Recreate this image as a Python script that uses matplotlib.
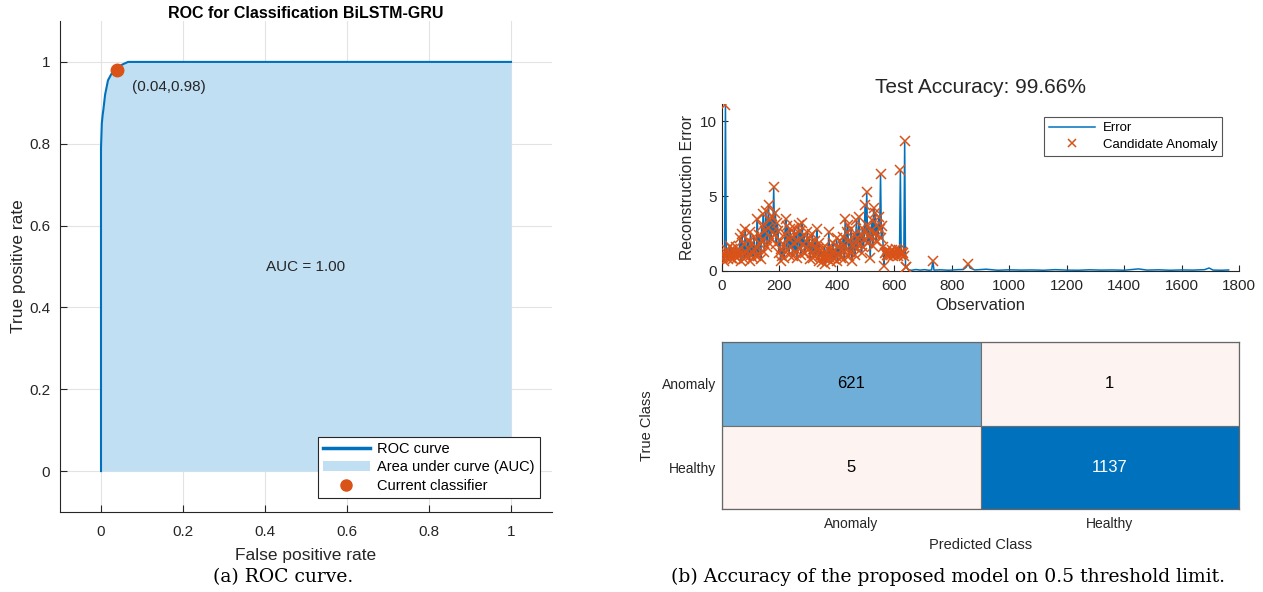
import numpy as np
import matplotlib
matplotlib.use("Agg")
import matplotlib.pyplot as plt
from matplotlib.lines import Line2D
from matplotlib.patches import Patch

plt.rcParams['font.family'] = ['Liberation Sans', 'DejaVu Sans']

# ---------------- data ----------------
roc_fpr = [0.0, 0.0, 0.001, 0.002, 0.004, 0.006, 0.01, 0.017, 0.025, 0.035, 0.045, 0.055, 0.066, 1.0]
roc_tpr = [0.0, 0.79, 0.82, 0.85, 0.87, 0.885, 0.92, 0.955, 0.97, 0.98, 0.99, 0.995, 1.0, 1.0]
op_point = (0.04, 0.98)
auc_text = "AUC = 1.00"

obs_step = 3
err_anom = [
    0.9, 1.1, 0.7, 1.3, 11.1, 1.0, 1.4, 0.8, 1.2, 1.7, 0.9, 1.1, 1.5, 0.8, 1.2, 1.0, 1.6, 0.9, 1.3, 1.1,
    1.4, 2.2, 0.7, 2.5, 1.2, 1.8, 0.8, 2.8, 1.3, 1.0, 2.0, 1.5, 0.7, 2.6, 1.1, 1.9, 0.9, 2.3, 1.4, 1.0,
    1.6, 3.5, 1.0, 2.4, 1.8, 0.8, 3.0, 2.1, 3.8, 1.3, 2.7, 4.0, 1.6, 2.9, 4.4, 1.9, 3.4, 2.2, 3.7, 2.6,
    5.6, 2.4, 3.9, 1.8, 3.2, 2.7, 1.2, 2.0, 0.7, 1.5, 1.0, 1.8, 0.9, 2.5, 3.5, 1.4, 3.0, 2.2, 1.1, 2.8,
    1.6, 2.3, 1.0, 1.9, 2.9, 1.3, 2.5, 0.9, 2.0, 3.1, 1.5, 2.7, 1.1, 3.2, 1.8, 2.4, 1.2, 2.0, 1.6, 2.6,
    1.4, 2.2, 0.8, 1.8, 1.2, 2.5, 0.9, 1.6, 2.0, 1.1, 2.8, 1.5, 0.7, 1.9, 1.0, 1.4, 0.6, 1.2, 0.9, 1.7,
    0.5, 1.3, 0.8, 1.1, 2.6, 0.9, 1.5, 0.6, 1.2, 1.9, 0.8, 1.4, 1.0, 2.2, 0.7, 1.6, 1.1, 2.0, 0.9, 1.5,
    1.8, 2.3, 0.8, 3.5, 1.4, 2.6, 3.1, 1.0, 2.0, 1.3, 2.8, 0.7, 1.7, 2.4, 1.1, 1.9, 3.4, 1.5, 2.2, 3.6,
    1.8, 2.5, 1.2, 2.9, 1.6, 2.1, 4.4, 2.6, 5.3, 1.9, 3.0, 2.3, 0.9, 2.7, 3.4, 1.7, 4.2, 2.5, 3.9, 2.0,
    3.1, 2.4, 3.6, 2.8, 6.45, 2.2, 3.0, 1.6, 0.35, 1.2, 1.3, 1.1, 1.4, 1.0, 1.2, 1.3, 1.1, 1.4, 1.2, 1.0,
    1.3, 1.1, 1.5, 1.2, 1.0, 1.4, 1.2, 6.75, 1.1, 1.3, 1.2, 1.0, 8.7, 0.3, 0.3,
]
healthy_obs = [648, 660, 675, 690, 705, 720, 730, 734, 738, 760,
               790, 820, 840, 850, 857, 864, 880, 920, 960, 1000,
               1040, 1080, 1120, 1160, 1200, 1240, 1280, 1320, 1360, 1400,
               1440, 1450, 1480, 1520, 1560, 1600, 1640, 1680, 1696, 1710,
               1740, 1764]
healthy_err = [0.08, 0.05, 0.1, 0.06, 0.09, 0.05, 0.07, 0.7, 0.06, 0.08,
               0.05, 0.09, 0.1, 0.25, 0.48, 0.2, 0.07, 0.12, 0.05, 0.08,
               0.06, 0.07, 0.05, 0.09, 0.06, 0.05, 0.08, 0.06, 0.07, 0.05,
               0.12, 0.14, 0.06, 0.08, 0.05, 0.07, 0.06, 0.09, 0.2, 0.06,
               0.05, 0.07]
anomaly_threshold = 0.28
test_accuracy = 99.66

class_names = ["Anomaly", "Healthy"]
conf_mat = [[621, 1], [5, 1137]]

# ---------------- styles ----------------
BLUE = '#0072bd'
ORANGE = '#d95319'
FILL = '#c0dff3'
TXT = '#262626'

fig = plt.figure(figsize=(12.63, 5.92), dpi=100)

# ---------------- ROC ----------------
ax1 = fig.add_axes([60/1263, 1-512/592, 492/1263, 491/592])
ax1.fill_between(roc_fpr, roc_tpr, 0, color=FILL, lw=0, zorder=1)
ax1.plot(roc_fpr, roc_tpr, color=BLUE, lw=1.5, zorder=3)
ax1.plot([op_point[0]], [op_point[1]], 'o', color=ORANGE, ms=9, zorder=4)
ax1.text(op_point[0] + 0.035, op_point[1] - 0.05, "(%.2f,%.2f)" % op_point, fontsize=11, color=TXT)
ax1.text(0.5, 0.5, auc_text, fontsize=11, ha='center', va='center', color=TXT)
ax1.set_xlim(-0.1, 1.1)
ax1.set_ylim(-0.1, 1.1)
ax1.set_xticks([0, 0.2, 0.4, 0.6, 0.8, 1])
ax1.set_yticks([0, 0.2, 0.4, 0.6, 0.8, 1])
ax1.set_xticklabels(['0', '0.2', '0.4', '0.6', '0.8', '1'])
ax1.set_yticklabels(['0', '0.2', '0.4', '0.6', '0.8', '1'])
ax1.grid(True, color='#e3e3e3', lw=0.8, zorder=0)
ax1.set_axisbelow(True)
for s in ['top', 'right']:
    ax1.spines[s].set_visible(False)
for s in ['left', 'bottom']:
    ax1.spines[s].set_color(TXT)
ax1.tick_params(direction='in', labelsize=11, colors=TXT, length=5)
ax1.tick_params(axis='x', pad=9)
ax1.tick_params(axis='y', pad=7)
ax1.set_xlabel("False positive rate", fontsize=12.5, color=TXT, labelpad=7)
ax1.set_ylabel("True positive rate", fontsize=12.5, color=TXT, labelpad=2)
ax1.set_title("ROC for Classification BiLSTM-GRU", fontsize=11.5, fontweight='bold', pad=0)
handles = [Line2D([], [], color=BLUE, lw=2.5),
           Patch(facecolor=FILL, edgecolor='none'),
           Line2D([], [], marker='o', ls='none', color=ORANGE, ms=8)]
leg = ax1.legend(handles, ["ROC curve", "Area under curve (AUC)", "Current classifier"],
                 loc='lower right', bbox_to_anchor=(0.975, 0.028), fontsize=10.5, fancybox=False,
                 framealpha=1, edgecolor=TXT, borderpad=0.35, labelspacing=0.32,
                 handlelength=3.2, handletextpad=0.5, borderaxespad=0)
leg.get_frame().set_linewidth(0.8)

# ---------------- reconstruction error ----------------
obs_anom = np.arange(len(err_anom)) * obs_step
obs_all = np.concatenate([obs_anom, healthy_obs])
err_all = np.concatenate([err_anom, healthy_err])
ax2 = fig.add_axes([722/1263, 1-271/592, 517/1263, 167/592])
ax2.plot(obs_all, err_all, color=BLUE, lw=1.1, label="Error", zorder=2)
mask = err_all > anomaly_threshold
ax2.plot(obs_all[mask], err_all[mask], 'x', color=ORANGE, ms=7, mew=1.1,
         label="Candidate Anomaly", zorder=3)
ax2.set_xlim(0, 1800)
ax2.set_ylim(0, 11.15)
ax2.set_xticks(np.arange(0, 1801, 200))
ax2.set_yticks([0, 5, 10])
for s in ['top', 'right']:
    ax2.spines[s].set_visible(False)
for s in ['left', 'bottom']:
    ax2.spines[s].set_color(TXT)
ax2.tick_params(direction='in', labelsize=11, colors=TXT, length=4)
ax2.tick_params(axis='x', pad=6)
ax2.set_xlabel("Observation", fontsize=12, color=TXT, labelpad=3)
ax2.set_ylabel("Reconstruction Error", fontsize=11.3, color=TXT, labelpad=4)
ax2.set_title("Test Accuracy: %.2f%%" % test_accuracy, fontsize=15, color=TXT, pad=8)
leg2 = ax2.legend(loc='upper right', bbox_to_anchor=(0.967, 0.92), fontsize=9.5, fancybox=False,
                  framealpha=1, edgecolor='#555555', borderpad=0.35, labelspacing=0.35,
                  handlelength=3.5, handletextpad=0.6, borderaxespad=0, markerscale=0.8)
leg2.get_frame().set_linewidth(0.8)

# ---------------- confusion matrix ----------------
ax3 = fig.add_axes([722/1263, 1-509/592, 517/1263, 167/592])
cm = np.array(conf_mat)
cell_colors = {(0, 0): '#6eaed8', (1, 1): '#0072bd', (0, 1): '#fdf4f2', (1, 0): '#fdf4f2'}
for i in range(2):
    for j in range(2):
        ax3.add_patch(plt.Rectangle((j, i), 1, 1, facecolor=cell_colors[(i, j)],
                                    edgecolor='#6f6f6f', lw=0.8))
        ax3.text(j + 0.5, i + 0.5, str(cm[i, j]), ha='center', va='center', fontsize=12,
                 color='white' if (i, j) == (1, 1) else 'black')
ax3.set_xlim(0, 2)
ax3.set_ylim(2, 0)
ax3.set_xticks([0.5, 1.5])
ax3.set_yticks([0.5, 1.5])
ax3.set_xticklabels(class_names)
ax3.set_yticklabels(class_names)
ax3.tick_params(length=0, labelsize=10, colors=TXT, pad=6)
ax3.tick_params(axis='y', pad=4)
for s in ax3.spines.values():
    s.set_color('#666666')
    s.set_linewidth(0.9)
ax3.set_xlabel("Predicted Class", fontsize=10.5, color=TXT, labelpad=5)
ax3.set_ylabel("True Class", fontsize=10.5, color=TXT, labelpad=6)

# ---------------- captions ----------------
fig.text(283/1263, 1-577/592, "(a) ROC curve.", ha='center', va='center',
         fontsize=13.5, family='DejaVu Serif')
fig.text(948/1263, 1-577/592, "(b) Accuracy of the proposed model on 0.5 threshold limit.",
         ha='center', va='center', fontsize=13.5, family='DejaVu Serif')

fig.savefig("out.png", dpi=100)
